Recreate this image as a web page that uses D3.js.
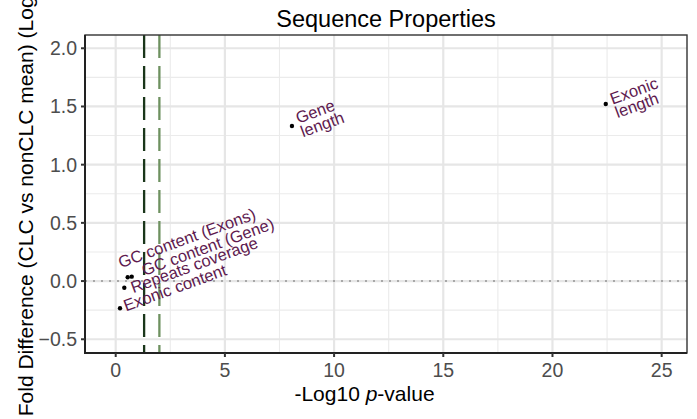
<!DOCTYPE html>
<html>
<head>
<meta charset="utf-8">
<script src="https://cdn.jsdelivr.net/npm/d3@7"></script>
<style>
    body { margin: 0; background: #fff; }
    svg text { font-family: "Liberation Sans", Arial, sans-serif; }
</style>
</head>
<body>
<div id="chart"></div>
<script>
(function() {
    'use strict';

    // sequence properties, one entry per feature
    var labels = ['Gene\nlength', 'Exonic\nlength', 'GC content (Exons)', 'GC content (Gene)', 'Repeats coverage', 'Exonic content'];
    var negLog10P = [8.07, 22.44, 0.549, 0.733, 0.394, 0.197];
    var foldDiff = [1.332, 1.521, 0.033, 0.038, -0.057, -0.234];
    // label anchors (data units), as placed by the repel step
    var labelX = [8.38, 22.78, 0.142, 1.222, 0.719, 0.385];
    var labelY = [1.338, 1.502, 0.155, 0.089, -0.059, -0.217];
    // significance cut-offs, -log10(0.05) and -log10(0.01)
    var thresholds = [1.301, 2];
    var xTicks = [0, 5, 10, 15, 20, 25];
    var xMinor = [2.5, 7.5, 12.5, 17.5, 22.5];
    var yTicks = [-0.5, 0, 0.5, 1, 1.5, 2];
    var yMinor = [-0.25, 0.25, 0.75, 1.25, 1.75];

    var width = 697, height = 419;
    var panel = {left: 85, right: 687, top: 35, bottom: 353};

    var svg = d3.select('#chart').append('svg')
        .attr('width', width)
        .attr('height', height);

    var x = d3.scaleLinear().domain([-1.406, 26.16]).range([panel.left, panel.right]);
    var y = d3.scaleLinear().domain([-0.618, 2.114]).range([panel.bottom, panel.top]);

    // grid
    var grid = svg.append('g');
    grid.selectAll('line.xminor').data(xMinor).enter().append('line')
        .attr('x1', x).attr('x2', x)
        .attr('y1', panel.top).attr('y2', panel.bottom)
        .attr('stroke', '#ebebeb').attr('stroke-width', 1.1);
    grid.selectAll('line.yminor').data(yMinor).enter().append('line')
        .attr('y1', y).attr('y2', y)
        .attr('x1', panel.left).attr('x2', panel.right)
        .attr('stroke', '#ebebeb').attr('stroke-width', 1.1);
    grid.selectAll('line.xmajor').data(xTicks).enter().append('line')
        .attr('x1', x).attr('x2', x)
        .attr('y1', panel.top).attr('y2', panel.bottom)
        .attr('stroke', '#e6e6e6').attr('stroke-width', 2.2);
    grid.selectAll('line.ymajor').data(yTicks).enter().append('line')
        .attr('y1', y).attr('y2', y)
        .attr('x1', panel.left).attr('x2', panel.right)
        .attr('stroke', '#e6e6e6').attr('stroke-width', 2.2);

    // zero line
    svg.append('line')
        .attr('x1', panel.left).attr('x2', panel.right)
        .attr('y1', y(0)).attr('y2', y(0))
        .attr('stroke', '#a8a8a8')
        .attr('stroke-width', 2)
        .attr('stroke-dasharray', '2,6');

    // threshold lines
    var threshColors = ['#1a361a', '#6e9160'];
    svg.selectAll('line.thresh').data(thresholds).enter().append('line')
        .attr('x1', x).attr('x2', x)
        .attr('y1', panel.top).attr('y2', panel.bottom)
        .attr('stroke', function(d, i) { return threshColors[i]; })
        .attr('stroke-width', 2.3)
        .attr('stroke-dasharray', '23,8');

    // points
    svg.selectAll('circle.pt').data(labels).enter().append('circle')
        .attr('cx', function(d, i) { return x(negLog10P[i]); })
        .attr('cy', function(d, i) { return y(foldDiff[i]); })
        .attr('r', 2.2)
        .attr('fill', '#000');

    // rotated labels
    var lineH = 14.5;
    var lbl = svg.selectAll('text.lbl').data(labels).enter().append('text')
        .attr('transform', function(d, i) {
            return 'translate(' + x(labelX[i]) + ',' + y(labelY[i]) + ') rotate(-20)';
        })
        .attr('fill', '#5e1a4f')
        .style('font-size', '16.5px');
    lbl.each(function(d) {
        var lines = d.split('\n');
        var t = d3.select(this);
        lines.forEach(function(s, k) {
            t.append('tspan')
                .attr('x', 0)
                .attr('y', (k - (lines.length - 1) / 2) * lineH + 5.6)
                .text(s);
        });
    });

    // panel border and axis lines
    svg.append('rect')
        .attr('x', panel.left).attr('y', panel.top)
        .attr('width', panel.right - panel.left)
        .attr('height', panel.bottom - panel.top)
        .attr('fill', 'none')
        .attr('stroke', '#333')
        .attr('stroke-width', 1.4);
    svg.append('line')
        .attr('x1', panel.left).attr('x2', panel.left)
        .attr('y1', panel.top).attr('y2', panel.bottom + 1)
        .attr('stroke', '#222').attr('stroke-width', 2);
    svg.append('line')
        .attr('x1', panel.left - 1).attr('x2', panel.right)
        .attr('y1', panel.bottom).attr('y2', panel.bottom)
        .attr('stroke', '#222').attr('stroke-width', 2);

    // x axis
    var xAxis = svg.append('g');
    xAxis.selectAll('line').data(xTicks).enter().append('line')
        .attr('x1', x).attr('x2', x)
        .attr('y1', panel.bottom).attr('y2', panel.bottom + 4)
        .attr('stroke', '#333').attr('stroke-width', 2);
    xAxis.selectAll('text').data(xTicks).enter().append('text')
        .attr('x', x)
        .attr('y', 377)
        .attr('text-anchor', 'middle')
        .attr('fill', '#4d4d4d')
        .style('font-size', '19.5px')
        .text(function(d) { return d; });

    // y axis
    var yAxis = svg.append('g');
    yAxis.selectAll('line').data(yTicks).enter().append('line')
        .attr('y1', y).attr('y2', y)
        .attr('x1', panel.left - 4).attr('x2', panel.left)
        .attr('stroke', '#333').attr('stroke-width', 2);
    yAxis.selectAll('text').data(yTicks).enter().append('text')
        .attr('x', 77)
        .attr('y', function(d) { return y(d) + 7; })
        .attr('text-anchor', 'end')
        .attr('fill', '#4d4d4d')
        .style('font-size', '19.5px')
        .text(function(d) { return d < 0 ? '\u2212' + d3.format('.1f')(-d) : d3.format('.1f')(d); });

    // titles
    svg.append('text')
        .attr('x', (panel.left + panel.right) / 2)
        .attr('y', 26.5)
        .attr('text-anchor', 'middle')
        .style('font-size', '23.5px')
        .text('Sequence Properties');

    var xt = svg.append('text')
        .attr('x', 364.5)
        .attr('y', 401)
        .attr('text-anchor', 'middle')
        .style('font-size', '21px');
    xt.append('tspan').text('-Log10 ');
    xt.append('tspan').style('font-style', 'italic').text('p');
    xt.append('tspan').text('-value');

    // long title runs past the top edge, as in the original
    svg.append('text')
        .attr('transform', 'translate(33,197) rotate(-90)')
        .attr('text-anchor', 'middle')
        .style('font-size', '21px')
        .text('Fold Difference (CLC vs nonCLC mean) (Log2)');
})();
</script>
</body>
</html>
